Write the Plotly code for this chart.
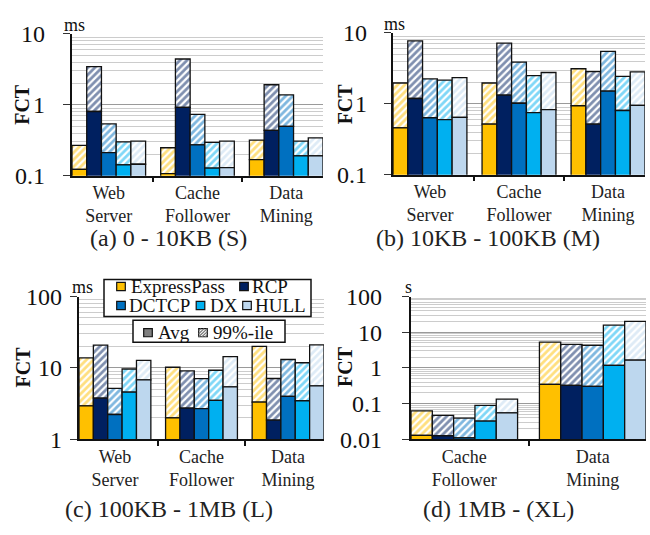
import plotly.graph_objects as go

W_PX, H_PX = 650, 535
SERIF = "'Liberation Serif', 'Times New Roman', Times, serif"

methods = ["ExpressPass", "RCP", "DCTCP", "DX", "HULL"]
colors = ["#FFC000", "#002060", "#0070C0", "#00B0F0", "#BDD7EE"]

cats_abc = ["Web<br>Server", "Cache<br>Follower", "Data<br>Mining"]
cats_d = ["Cache<br>Follower", "Data<br>Mining"]

# rows = methods (ExpressPass, RCP, DCTCP, DX, HULL); columns = workloads
small_avg = [
    [0.123, 0.107, 0.169],
    [0.805, 0.92, 0.437],
    [0.212, 0.272, 0.496],
    [0.142, 0.128, 0.19],
    [0.145, 0.13, 0.19],
]
small_p99 = [
    [0.267, 0.248, 0.318],
    [3.45, 4.43, 1.92],
    [0.538, 0.733, 1.38],
    [0.299, 0.296, 0.308],
    [0.308, 0.308, 0.342],
]
medium_avg = [
    [0.458, 0.517, 0.94],
    [1.19, 1.33, 0.517],
    [0.637, 1.02, 1.51],
    [0.598, 0.75, 0.806],
    [0.643, 0.83, 0.95],
]
medium_p99 = [
    [1.97, 1.97, 3.13],
    [7.73, 7.19, 2.85],
    [2.25, 3.88, 5.5],
    [2.16, 2.5, 2.44],
    [2.35, 2.77, 2.82],
]
large_avg = [
    [2.94, 1.99, 3.32],
    [3.76, 2.73, 1.85],
    [2.22, 2.68, 3.99],
    [4.56, 3.5, 3.46],
    [6.81, 5.43, 5.6],
]
large_p99 = [
    [13.8, 10.2, 20.0],
    [20.8, 9.07, 7.1],
    [5.16, 7.09, 13.1],
    [9.65, 9.26, 11.8],
    [12.7, 14.4, 21.0],
]
xl_avg = [
    [0.0128, 0.343],
    [0.0125, 0.323],
    [0.0109, 0.303],
    [0.0323, 1.18],
    [0.0551, 1.64],
]
xl_p99 = [
    [0.0624, 5.29],
    [0.0467, 4.58],
    [0.0388, 4.3],
    [0.0884, 15.7],
    [0.133, 20.1],
]

ticks_ab = [0.1, 1, 10]
ticks_c = [1, 10, 100]
ticks_d = [0.01, 0.1, 1, 10, 100]
titles = ["(a) 0 - 10KB (S)", "(b) 10KB - 100KB (M)", "(c) 100KB - 1MB (L)", "(d) 1MB - (XL)"]
units = ["ms", "ms", "ms", "s"]


def px(x):
    return x / W_PX


def py(y):
    return 1 - y / H_PX


GW = 0.83  # group width in category units

panels = [
    dict(sfx="", cats=cats_abc, avg=small_avg, p99=small_p99, yr=[-1, 1], tv=ticks_ab,
         xd=[72, 323], yd=[22, 171], stand=13, fct=(22.5, 96), unit=(74.5, 13), title=(168, 237)),
    dict(sfx="2", cats=cats_abc, avg=medium_avg, p99=medium_p99, yr=[-1, 1], tv=ticks_ab,
         xd=[393, 645], yd=[21, 170], stand=12, fct=(344.5, 95.5), unit=(395, 12), title=(488.5, 237)),
    dict(sfx="3", cats=cats_abc, avg=large_avg, p99=large_p99, yr=[0, 2], tv=ticks_c,
         xd=[79, 324], yd=[298, 448], stand=3, fct=(22.5, 372), unit=(82.5, 288), title=(168.5, 521)),
    dict(sfx="4", cats=cats_d, avg=xl_avg, p99=xl_p99, yr=[-2, 2], tv=ticks_d,
         xd=[411, 646], yd=[298, 448], stand=15, fct=(345, 372), unit=(408, 288), title=(498.5, 521)),
]

fig = go.Figure()
layout = dict(
    width=W_PX, height=H_PX, margin=dict(l=0, r=0, t=0, b=0),
    paper_bgcolor="white", plot_bgcolor="white", barmode="overlay",
    showlegend=False, font=dict(family=SERIF, color="#1a1a1a"),
)
annotations = []
shapes = []

for pi, p in enumerate(panels):
    xa = "x" + p["sfx"]
    ya = "y" + p["sfx"]
    n = len(p["cats"])
    for i, m in enumerate(methods):
        avg = p["avg"][i]
        p99 = p["p99"][i]
        off = -GW / 2 + i * GW / 5
        fig.add_trace(go.Bar(
            x=p["cats"], y=[b - a for a, b in zip(avg, p99)], base=avg,
            offset=off, width=GW / 5, xaxis=xa, yaxis=ya, name=m + " 99%-ile",
            marker=dict(color=colors[i], line=dict(color="#111", width=1.3),
                        pattern=dict(shape="/", fgcolor=colors[i], bgcolor="white",
                                     size=5, solidity=0.55)),
        ))
        fig.add_trace(go.Bar(
            x=p["cats"], y=avg, offset=off, width=GW / 5, xaxis=xa, yaxis=ya, name=m + " Avg",
            marker=dict(color=colors[i], line=dict(color="#111", width=1.3)),
        ))
    layout["xaxis" + p["sfx"]] = dict(
        domain=[px(p["xd"][0]), px(p["xd"][1])], anchor=ya, type="category",
        range=[-GW / 2, n - 1 + GW / 2], showline=True, linecolor="#111", linewidth=1.5,
        ticks="outside", tickson="boundaries", ticklen=5, tickwidth=2, tickcolor="#111",
        tickfont=dict(family=SERIF, size=18, color="#222"), showgrid=False, zeroline=False,
    )
    layout["yaxis" + p["sfx"]] = dict(
        domain=[py(p["yd"][1]), py(p["yd"][0])], anchor=xa, type="log", range=p["yr"],
        tickvals=p["tv"], ticktext=[("%g" % v) for v in p["tv"]],
        showline=True, linecolor="#111", linewidth=2.2, ticks="outside", ticklen=7,
        tickcolor="#333", tickwidth=1.2, ticklabelstandoff=p["stand"],
        tickfont=dict(family=SERIF, size=24, color="#111"),
        showgrid=True, gridcolor="#9a9a9a", gridwidth=1.2, zeroline=False,
        minor=dict(dtick="D1", showgrid=True, gridcolor="#cccccc", gridwidth=1, ticks=""),
    )
    annotations.append(dict(
        text="<b>FCT</b>", x=px(p["fct"][0]), y=py(p["fct"][1]), xref="paper", yref="paper",
        textangle=-90, showarrow=False, font=dict(family=SERIF, size=20, color="#111"),
        xanchor="center", yanchor="middle"))
    annotations.append(dict(
        text=units[pi], x=px(p["unit"][0]), y=py(p["unit"][1]), xref="paper", yref="paper",
        showarrow=False, font=dict(family=SERIF, size=18, color="#111"),
        xanchor="center", yanchor="middle"))
    annotations.append(dict(
        text=titles[pi], x=px(p["title"][0]), y=py(p["title"][1]), xref="paper", yref="paper",
        showarrow=False, font=dict(family=SERIF, size=24, color="#222"),
        xanchor="center", yanchor="middle"))

# legend (inside panel c)
def rect(x0, y0, x1, y1, fill, lw=1.5, lc="#111"):
    shapes.append(dict(type="rect", xref="paper", yref="paper", x0=px(x0), x1=px(x1),
                       y0=py(y1), y1=py(y0), fillcolor=fill, line=dict(color=lc, width=lw),
                       layer="above"))


def ltext(x, y, t):
    annotations.append(dict(text=t, x=px(x), y=py(y), xref="paper", yref="paper",
                            showarrow=False, xanchor="left", yanchor="middle",
                            font=dict(family=SERIF, size=19, color="#111")))


rect(104, 280, 311, 319, "white")
rect(133, 323, 285, 346, "white")
leg_items = [(121, 287.5, 129), (244, 287.5, 250), (121, 307.5, 127), (200.5, 307.5, 208), (247, 307.5, 253)]
hs = 4.3
for i, (cx, cy, tx) in enumerate(leg_items):
    rect(cx - hs, cy - hs, cx + hs, cy + hs, colors[i], lw=1.2)
    ltext(tx, cy, methods[i])
rect(148 - hs, 336 - hs, 148 + hs, 336 + hs, "#808080", lw=1.2)
ltext(156, 336, "Avg")
rect(203 - hs, 336 - hs, 203 + hs, 336 + hs, "white", lw=1.2)
for k in range(-2, 3):
    d = k * 3.2
    x0, y0 = 203 - hs + max(0, d), 336 + hs - max(0, -d)
    x1, y1 = 203 + hs - max(0, -d), 336 - hs + max(0, d)
    shapes.append(dict(type="line", xref="paper", yref="paper", x0=px(x0), y0=py(y0),
                       x1=px(x1), y1=py(y1), line=dict(color="#777", width=1.2), layer="above"))
ltext(211, 336, "99%-ile")

layout["annotations"] = annotations
layout["shapes"] = shapes
fig.update_layout(**layout)
fig.write_html("out.html")
